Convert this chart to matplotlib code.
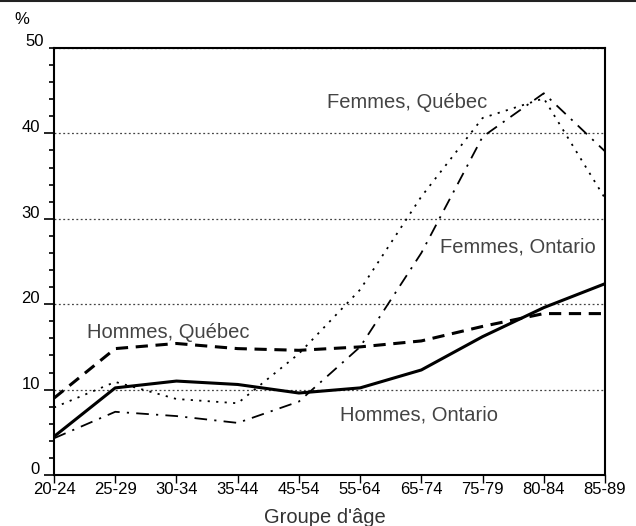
import numpy as np
import matplotlib.pyplot as plt
import matplotlib.transforms as mtransforms
from matplotlib.lines import Line2D
from matplotlib.ticker import MultipleLocator, FixedLocator

plt.rcParams['font.family'] = ['Liberation Sans', 'DejaVu Sans']

# Groupes d'âge
groups = ["20-24", "25-29", "30-34", "35-44", "45-54", "55-64",
          "65-74", "75-79", "80-84", "85-89"]

# Pourcentages par série
hommes_ontario = [4.5, 10.2, 11.0, 10.6, 9.6, 10.2, 12.3, 16.2, 19.6, 22.4]
hommes_quebec = [9.0, 14.8, 15.4, 14.8, 14.6, 15.0, 15.7, 17.4, 18.9, 18.9]
femmes_quebec = [7.9, 10.9, 8.9, 8.4, 14.2, 21.7, 32.6, 41.8, 44.1, 32.4]
femmes_ontario = [4.3, 7.4, 6.9, 6.1, 8.6, 15.0, 26.0, 39.6, 44.7, 37.9]

y_ticks = [0, 10, 20, 30, 40]

fig = plt.figure(figsize=(6.36, 5.26), dpi=100)
ax = fig.add_axes([54 / 636, 51 / 526, 551 / 636, 427 / 526])

x = np.arange(len(groups))

for y in [10, 20, 30, 40, 50]:
    ax.axhline(y, color="#444444", lw=0.9, ls=(0, (1.5, 2)), zorder=1)

ax.plot(x, hommes_ontario, color="black", lw=2.2, zorder=3)
ax.plot(x, hommes_quebec, color="black", lw=2.2, ls=(0, (4, 2.5)), zorder=3)
ax.plot(x, femmes_quebec, color="black", lw=1.3, ls=(0, (1.2, 3.5)), zorder=3)
ax.plot(x, femmes_ontario, color="black", lw=1.3, ls=(0, (7, 4, 1.2, 4)), zorder=3)

ax.set_xlim(0, len(groups) - 1)
ax.set_ylim(0, 50)
ax.set_xticks(x)
ax.set_xticklabels(groups, fontsize=12)
ax.yaxis.set_major_locator(FixedLocator(y_ticks))
ax.set_yticklabels([str(v) for v in y_ticks])
ax.yaxis.set_minor_locator(MultipleLocator(2))
ax.tick_params(axis="y", which="major", length=7, width=1.2, labelsize=12, pad=1)
ax.tick_params(axis="y", which="minor", length=3.6, width=1.2, direction="out")
ax.tick_params(axis="x", length=6, width=1.0, direction="out", pad=-1)
shift = mtransforms.ScaledTranslation(-2 / 72, 5 / 72, fig.dpi_scale_trans)
for t in ax.get_yticklabels():
    t.set_transform(t.get_transform() + shift)
for s in ax.spines.values():
    s.set_linewidth(1.5)

fig.text(325 / 636, 3 / 526, "Groupe d'âge", fontsize=14.5, color="#333333",
         ha="center", va="baseline")

lab = dict(fontsize=14.5, color="#444444", va="baseline", ha="left")
ax.text(4.46, 43.0, "Femmes, Québec", **lab)
ax.text(6.31, 26.1, "Femmes, Ontario", **lab)
ax.text(0.54, 16.0, "Hommes, Québec", **lab)
ax.text(4.67, 6.4, "Hommes, Ontario", **lab)

fig.text(14 / 636, 1 - 20 / 526, "%", fontsize=12, va="center", ha="left")
fig.text(25 / 636, 1 - 42 / 526, "50", fontsize=12, va="center", ha="left")

fig.add_artist(Line2D([0, 1], [1 - 1 / 526, 1 - 1 / 526], color="#222222", lw=1.5))

fig.savefig("out.png", dpi=100)
